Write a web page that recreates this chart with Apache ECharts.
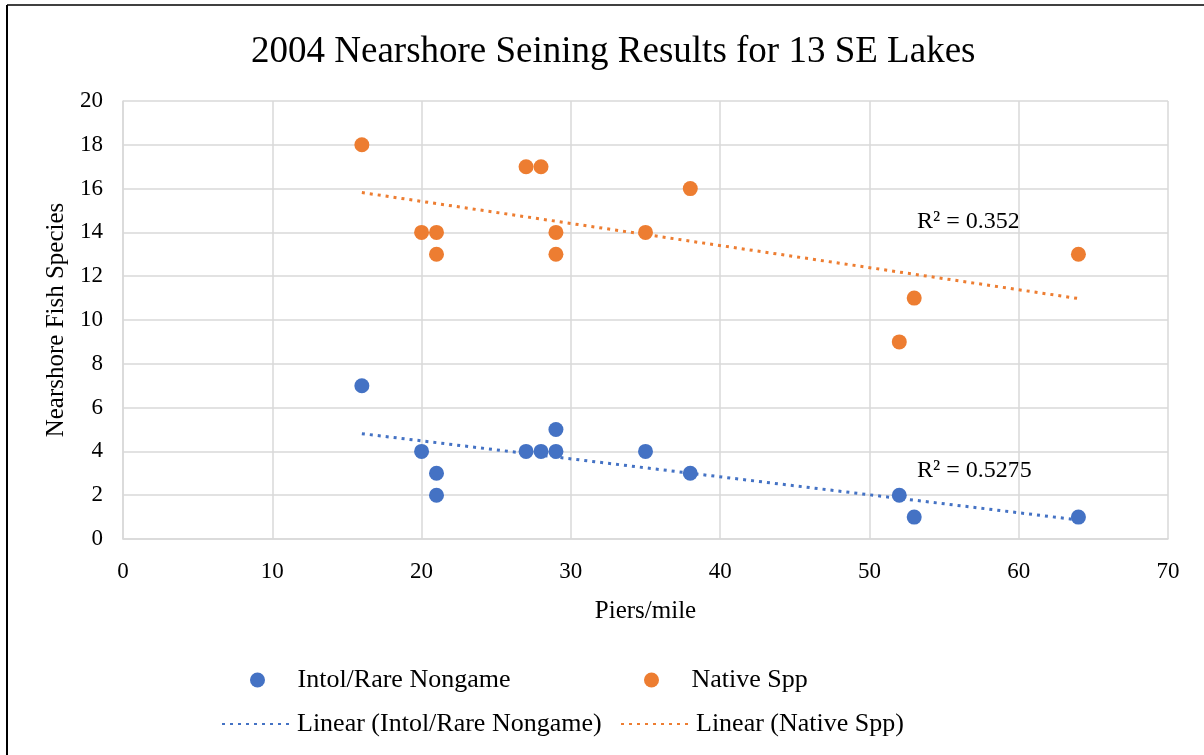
<!DOCTYPE html>
<html>
<head>
<meta charset="utf-8">
<script src="https://cdn.jsdelivr.net/npm/echarts@6/dist/echarts.min.js"></script>
<style>
  html, body { margin: 0; padding: 0; background: #fff; }
  #chart { width: 1204px; height: 755px; }
</style>
</head>
<body>
<div id="chart"></div>
<script>
// piers per mile for the 13 lakes
var piersPerMile = [16, 20, 21, 21, 27, 28, 29, 29, 35, 38, 52, 53, 64];
var intolRare = [7, 4, 3, 2, 4, 4, 5, 4, 4, 3, 2, 1, 1];
var nativeSpp = [18, 14, 14, 13, 17, 17, 14, 13, 14, 16, 9, 11, 13];
// trend line end points
var trendX = [16, 64];
var intolTrend = [4.81, 0.87];
var nativeTrend = [15.82, 10.98];
var r2Labels = ['R² = 0.352', 'R² = 0.5275'];

var BLUE = '#4472C4';
var ORANGE = '#ED7D31';
var FONT = '"Liberation Serif", "Times New Roman", serif';

function pairs(xs, ys) {
    return xs.map(function (x, i) { return [x, ys[i]]; });
}

var chart = echarts.init(document.getElementById('chart'));

var legendBase = {
    orient: 'horizontal',
    textStyle: { fontFamily: FONT, fontSize: 26, color: '#000' },
    itemGap: 0,
    itemWidth: 70,
    itemHeight: 15
};

var option = {
    backgroundColor: '#fff',
    animation: false,
    title: {
        text: '2004 Nearshore Seining Results for 13 SE Lakes',
        left: 246,
        top: 29,
        textStyle: { fontFamily: FONT, fontSize: 37, fontWeight: 'normal', color: '#000' }
    },
    grid: { left: 123, right: 36, top: 101, bottom: 216 },
    xAxis: {
        type: 'value',
        min: 0, max: 70, interval: 10,
        name: 'Piers/mile',
        nameLocation: 'middle',
        nameGap: 60,
        nameTextStyle: { fontFamily: FONT, fontSize: 25, color: '#000' },
        axisLine: { show: true, lineStyle: { color: '#d9d9d9', width: 1.5 } },
        axisTick: { show: false },
        axisLabel: { fontFamily: FONT, fontSize: 23, color: '#000', margin: 21 },
        splitLine: { show: true, lineStyle: { color: '#d9d9d9', width: 1.5 } }
    },
    yAxis: {
        type: 'value',
        min: 0, max: 20, interval: 2,
        name: 'Nearshore Fish Species',
        nameLocation: 'middle',
        nameGap: 52,
        nameTextStyle: { fontFamily: FONT, fontSize: 25, color: '#000' },
        axisLine: { show: true, lineStyle: { color: '#d9d9d9', width: 1.5 } },
        axisTick: { show: false },
        axisLabel: { fontFamily: FONT, fontSize: 23, color: '#000', margin: 20 },
        splitLine: { show: true, lineStyle: { color: '#d9d9d9', width: 1.5 } }
    },
    legend: [
        Object.assign({}, legendBase, {
            data: [{ name: 'Intol/Rare Nongame', icon: 'circle' }],
            left: 245, top: 662
        }),
        Object.assign({}, legendBase, {
            data: [{ name: 'Native Spp', icon: 'circle' }],
            left: 639, top: 662
        }),
        Object.assign({}, legendBase, {
            data: [{ name: 'Linear (Intol/Rare Nongame)', itemStyle: { opacity: 0 } }],
            left: 216, top: 706
        }),
        Object.assign({}, legendBase, {
            data: [{ name: 'Linear (Native Spp)', itemStyle: { opacity: 0 } }],
            left: 615, top: 706
        })
    ],
    graphic: [
        {
            type: 'line',
            shape: { x1: 7, y1: 5, x2: 1210, y2: 5 },
            style: { stroke: '#000', lineWidth: 1.5 },
            silent: true
        },
        {
            type: 'line',
            shape: { x1: 7, y1: 5, x2: 7, y2: 760 },
            style: { stroke: '#000', lineWidth: 2 },
            silent: true
        },
        {
            type: 'text', x: 917, y: 222,
            style: { text: r2Labels[0], font: '24px ' + FONT, fill: '#000', verticalAlign: 'middle' }
        },
        {
            type: 'text', x: 917, y: 471,
            style: { text: r2Labels[1], font: '24px ' + FONT, fill: '#000', verticalAlign: 'middle' }
        }
    ],
    series: [
        {
            name: 'Linear (Intol/Rare Nongame)',
            type: 'line',
            data: pairs(trendX, intolTrend),
            symbol: 'none',
            lineStyle: { color: BLUE, width: 3, type: [3, 5] },
            itemStyle: { color: BLUE },
            z: 1
        },
        {
            name: 'Linear (Native Spp)',
            type: 'line',
            data: pairs(trendX, nativeTrend),
            symbol: 'none',
            lineStyle: { color: ORANGE, width: 3, type: [3, 5] },
            itemStyle: { color: ORANGE },
            z: 1
        },
        {
            name: 'Intol/Rare Nongame',
            type: 'scatter',
            data: pairs(piersPerMile, intolRare),
            symbolSize: 15,
            itemStyle: { color: BLUE, opacity: 1 },
            z: 3
        },
        {
            name: 'Native Spp',
            type: 'scatter',
            data: pairs(piersPerMile, nativeSpp),
            symbolSize: 15,
            itemStyle: { color: ORANGE, opacity: 1 },
            z: 3
        }
    ]
};

chart.setOption(option);
</script>
</body>
</html>
